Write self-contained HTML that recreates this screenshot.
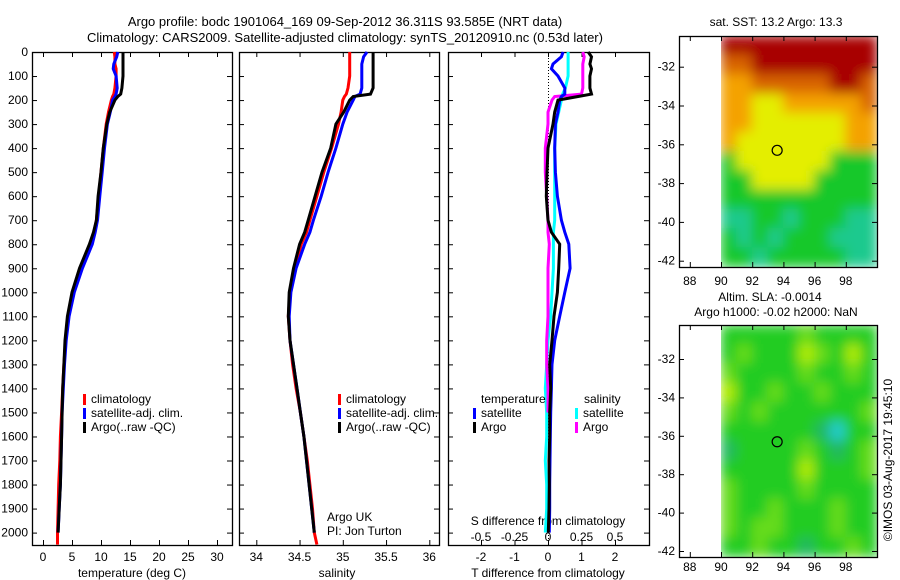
<!DOCTYPE html>
<html><head><meta charset="utf-8"><style>
html,body{margin:0;padding:0;background:#fff;}
svg{display:block;font-family:"Liberation Sans",sans-serif;font-size:12px;}
</style></head><body>
<svg id="chart" width="900" height="580" viewBox="0 0 900 580">
<defs>
<filter id="blur" x="0" y="0" width="1" height="1"><feGaussianBlur stdDeviation="6" edgeMode="duplicate"/></filter>
<clipPath id="clip1"><rect x="721" y="36" width="156" height="231"/></clipPath>
<clipPath id="clip2"><rect x="721" y="325" width="156" height="232"/></clipPath>
</defs>
<text x="345" y="26" text-anchor="middle" font-size="13">Argo profile: bodc 1901064_169 09-Sep-2012 36.311S 93.585E (NRT data)</text>
<text x="345" y="42" text-anchor="middle" font-size="13">Climatology: CARS2009. Satellite-adjusted climatology: synTS_20120910.nc (0.53d later)</text>
<g id="g"></g>
</svg>
<script>
var depths=[0,20,50,70,100,150,175,185,200,250,300,400,500,600,700,750,800,900,1000,1100,1200,1300,1400,1500,1600,1700,1800,1900,2000,2050];
var tempClim=[12.3,12.4,12.4,12.6,12.6,12.4,12.2,12.0,11.8,11.3,10.9,10.4,10.0,9.6,9.2,8.8,8.2,6.5,5.2,4.3,3.9,3.6,3.4,3.2,3.0,2.9,2.7,2.6,2.5,2.5];
var tempSat=[12.9,12.7,12.2,12.1,12.6,12.8,12.6,12.4,12.0,11.6,11.1,10.6,10.2,9.8,9.4,9.0,8.5,6.8,5.4,4.5,4.0,3.7,3.5,3.3,3.2,3.1,3.0,2.8,2.6];
var tempArgo=[13.8,13.8,13.8,13.8,13.8,13.6,13.4,12.9,12.4,11.5,11.0,10.4,10.0,9.5,9.2,8.7,8.0,6.3,5.0,4.2,3.8,3.6,3.4,3.3,3.2,3.1,3.0,2.8,2.6];
var salClim=[35.08,35.08,35.08,35.08,35.08,35.06,35.04,35.02,35.0,34.98,34.95,34.87,34.78,34.70,34.62,34.58,34.52,34.44,34.39,34.37,34.39,34.42,34.46,34.51,34.55,34.59,34.62,34.65,34.67,34.70];
var salSat=[35.28,35.24,35.22,35.22,35.22,35.22,35.20,35.14,35.12,35.05,35.0,34.92,34.83,34.75,34.66,34.62,34.56,34.46,34.40,34.38,34.39,34.43,34.47,34.51,34.55,34.58,34.61,34.64,34.67];
var salArgo=[35.35,35.35,35.35,35.35,35.35,35.35,35.32,35.12,35.08,35.01,34.92,34.86,34.76,34.68,34.60,34.56,34.50,34.43,34.38,34.37,34.39,34.43,34.47,34.51,34.55,34.58,34.61,34.64,34.67];
var dTSat=[0.45,0.4,0.15,0.1,0.3,0.5,0.5,0.4,0.35,0.3,0.22,0.2,0.22,0.28,0.4,0.5,0.62,0.66,0.5,0.35,0.2,0.12,0.1,0.08,0.07,0.06,0.05,0.05,0.04];
var dTArgo=[1.2,1.3,1.25,1.3,1.25,1.25,1.3,0.9,0.3,0.2,0.15,0.0,-0.03,-0.05,0.0,0.1,0.35,0.32,0.28,0.18,0.12,0.05,0.08,0.05,0.05,0.03,0.04,0.03,0.01];
var dSSat=[0.15,0.15,0.15,0.15,0.15,0.13,0.11,0.1,0.1,0.08,0.06,0.05,0.05,0.05,0.05,0.04,0.04,0.04,0.03,0.02,0.0,-0.01,-0.02,-0.01,-0.01,-0.02,-0.01,-0.01,-0.02];
var dSArgo=[0.26,0.27,0.26,0.26,0.26,0.26,0.25,0.05,0.03,0.0,0.0,-0.02,-0.02,-0.01,0.0,0.0,0.01,0.0,0.0,0.0,-0.01,-0.01,0.0,0.0];
var depthTicks=[0,100,200,300,400,500,600,700,800,900,1000,1100,1200,1300,1400,1500,1600,1700,1800,1900,2000];
var tempTicks=[0,5,10,15,20,25,30];
var salTicks=[34,34.5,35,35.5,36];
var salTickLabels=["34","34.5","35","35.5","36"];
var dTTicks=[-2,-1,0,1,2];
var dSTicks=[-0.5,-0.25,0,0.25,0.5];
var dSTickLabels=["-0.5","-0.25","0","0.25","0.5"];
var lonTicks=[88,90,92,94,96,98];
var latTicks=[-32,-34,-36,-38,-40,-42];
var sstGrid=[
[6,6,6,6,6,6,6,6,6,6],[5,5,6,6,6,6,6,6,6,6],[4,4,5,5,5,5,5,6,6,5],[4,4,3,3,4,4,4,4,4,5],
[4,4,3,3,3,3,3,3,4,4],[4,3,3,3,3,3,3,3,4,4],[1,3,3,3,3,3,3,1,1,1],[1,1,3,3,3,3,1,1,1,1],
[1,1,1,1,1,1,1,1,1,1],[0,0,1,1,0,1,1,1,0,0],[1,0,1,0,1,1,1,0,0,0],[1,1,0,1,1,1,1,1,0,0]];
var slaGrid=[
[1,1,1,1,1,2,1,1,1,1],[1,2,1,1,1,3,2,1,3,1],[2,1,1,1,1,2,1,1,2,1],[3,1,1,2,1,1,2,1,1,1],
[2,1,2,1,1,1,1,1,1,2],[1,1,1,1,1,1,0,4,1,1],[0,1,1,1,1,2,1,0,1,2],[1,1,1,1,1,3,1,1,1,2],
[2,1,1,1,1,2,1,1,1,1],[2,1,1,2,1,1,1,2,1,1],[2,1,2,2,1,1,1,2,1,1],[1,1,2,1,1,0,1,1,2,1]];
var argoLon=93.6, argoLat=-36.31;

var NS="http://www.w3.org/2000/svg", G=document.getElementById('g');
function mk(t,a,p){var e=document.createElementNS(NS,t);for(var k in a)e.setAttribute(k,a[k]);(p||G).appendChild(e);return e;}
var yD=function(d){return 52+d*0.2403;};
var xT=function(v){return 43+v*5.8;};
var xS=function(v){return 256.3+(v-34)*86.5;};
var xDT=function(v){return 548+v*33.5;};
var xDS=function(v){return 548+v*134;};
var xLon=function(v){return 721+(v-90)*15.6;};
var yLat1=function(v){return 66.7+(-32-v)*19.4;};
var yLat2=function(v){return 359+(-32-v)*19.2;};

function frame(x0,x1,y0,y1,name){
  var r=mk('rect',{x:x0+.5,y:y0+.5,width:x1-x0,height:y1-y0,fill:'none',stroke:'#000','stroke-width':1.3});
  
  
}
function vtick(x,y0,y1){mk('line',{x1:x+.5,x2:x+.5,y1:y0,y2:y0+5,stroke:'#000'});mk('line',{x1:x+.5,x2:x+.5,y1:y1,y2:y1-5,stroke:'#000'});}
function htick(y,x0,x1){mk('line',{x1:x0,x2:x0+5,y1:y+.5,y2:y+.5,stroke:'#000'});mk('line',{x1:x1,x2:x1-5,y1:y+.5,y2:y+.5,stroke:'#000'});}
function txt(x,y,s,anchor,name){var t=mk('text',{x:x,y:y,'text-anchor':anchor||'middle'});t.textContent=s;
  
  
  return t;}
function line(xs,xf,color,name){
  var pts=[];for(var i=0;i<xs.length;i++){pts.push(xf(xs[i]).toFixed(1)+','+yD(depths[i]).toFixed(1));}
  var p=mk('polyline',{points:pts.join(' '),fill:'none',stroke:color,'stroke-width':3,'stroke-linejoin':'miter'});
  
  
}
function legend(x,y,color,label,name){
  var r=mk('rect',{x:x,y:y-9,width:3,height:11,fill:color});
  
  
  txt(x+8,y,label,'start',name);
}
var panels=[[32,232],[239,439],[448,649]];
panels.forEach(function(p,i){
  frame(p[0],p[1],52,545,'profile-panel-'+(i+1));
  depthTicks.forEach(function(d){htick(yD(d),p[0],p[1]);});
});
depthTicks.forEach(function(d){txt(28,yD(d)+4,String(d),'end','depth-tick-label');});
tempTicks.forEach(function(v){vtick(xT(v),52,545);txt(xT(v),561,String(v),'middle','temp-tick-label');});
salTicks.forEach(function(v,i){vtick(xS(v),52,545);txt(xS(v),561,salTickLabels[i],'middle','sal-tick-label');});
dTTicks.forEach(function(v){vtick(xDT(v),52,545);txt(xDT(v),561,String(v),'middle','dt-tick-label');});
dSTicks.forEach(function(v,i){txt(xDS(v),541,dSTickLabels[i],'middle','ds-tick-label');});
txt(132,577,'temperature (deg C)','middle','temp-axis-title');
txt(337,577,'salinity','middle','sal-axis-title');
txt(548,577,'T difference from climatology','middle','dt-axis-title');
txt(548,525,'S difference from climatology','middle','ds-axis-title');
mk('line',{x1:548.5,x2:548.5,y1:52,y2:545,stroke:'#000','stroke-dasharray':'1,2'});

line(tempClim,xT,'#f00','temp-clim-line');
line(tempSat,xT,'#00f','temp-sat-line');
line(tempArgo,xT,'#000','temp-argo-line');
line(salClim,xS,'#f00','sal-clim-line');
line(salSat,xS,'#00f','sal-sat-line');
line(salArgo,xS,'#000','sal-argo-line');
line(dSSat,xDS,'#0ff','ds-sat-line');
line(dSArgo,xDS,'#f0f','ds-argo-line');
line(dTSat,xDT,'#00f','dt-sat-line');
line(dTArgo,xDT,'#000','dt-argo-line');

legend(83,403,'#f00','climatology','legend-climatology');
legend(83,417,'#00f','satellite-adj. clim.','legend-satellite-adj');
legend(83,431,'#000','Argo(..raw -QC)','legend-argo');
legend(338,403,'#f00','climatology','legend-climatology-2');
legend(338,417,'#00f','satellite-adj. clim.','legend-satellite-adj-2');
legend(338,431,'#000','Argo(..raw -QC)','legend-argo-2');
txt(481,403,'temperature','start','legend-temperature-heading');
legend(473,417,'#00f','satellite','legend-t-satellite');
legend(473,431,'#000','Argo','legend-t-argo');
txt(584,403,'salinity','start','legend-salinity-heading');
legend(575,417,'#0ff','satellite','legend-s-satellite');
legend(575,431,'#f0f','Argo','legend-s-argo');
txt(327,521,'Argo UK','start','argo-uk-label');
txt(327,535,'PI: Jon Turton','start','pi-label');

var sstColors=['#1ec98e','#14c82a','#a8e010','#e4ee00','#f4a200','#d86400','#a80000'];
var slaColors=['#22b860','#22cc22','#66dc1c','#b0ec00','#22cccc'];
function heat(grid,colors,yTop,yBot,clip,name){
  var outer=mk('g',{'clip-path':'url(#'+clip+')'});
  var g=mk('g',{filter:'url(#blur)'},outer);
  var rows=grid.length,cols=grid[0].length,ch=(yBot-yTop)/rows;
  for(var r=0;r<rows;r++)for(var c=0;c<cols;c++){
    var x=xLon(90+c);
    var e=mk('rect',{x:x-0.5,y:yTop+r*ch-0.5,width:15.6+1,height:ch+1,fill:colors[grid[r][c]]},g);
    
    
  }
}
heat(sstGrid,sstColors,36,267,'clip1','sst-map');
heat(slaGrid,slaColors,325,557,'clip2','sla-map');
frame(679,877,36,267,'sst-map-frame');
frame(679,877,325,557,'sla-map-frame');
lonTicks.forEach(function(v){vtick(xLon(v),36,267);vtick(xLon(v),325,557);
  txt(xLon(v),285,String(v),'middle','sst-lon-tick-label');txt(xLon(v),571,String(v),'middle','sla-lon-tick-label');});
latTicks.forEach(function(v){htick(yLat1(v),679,877);htick(yLat2(v),679,877);
  txt(675,yLat1(v)+4,String(v),'end','sst-lat-tick-label');txt(675,yLat2(v)+4,String(v),'end','sla-lat-tick-label');});
var c1=mk('circle',{cx:xLon(argoLon),cy:yLat1(argoLat),r:5,fill:'none',stroke:'#000','stroke-width':1.2});


var c2=mk('circle',{cx:xLon(argoLon),cy:yLat2(argoLat),r:5,fill:'none',stroke:'#000','stroke-width':1.2});


txt(776,26,'sat. SST: 13.2  Argo: 13.3','middle','sst-map-title');
txt(770,301,'Altim. SLA: -0.0014','middle','sla-map-title-1');
txt(776,316,'Argo h1000: -0.02 h2000: NaN','middle','sla-map-title-2');
var cr=txt(0,0,'©IMOS 03-Aug-2017 19:45:10','middle','copyright-label');
cr.setAttribute('transform','translate(892,460) rotate(-90)');
</script>
</body></html>
